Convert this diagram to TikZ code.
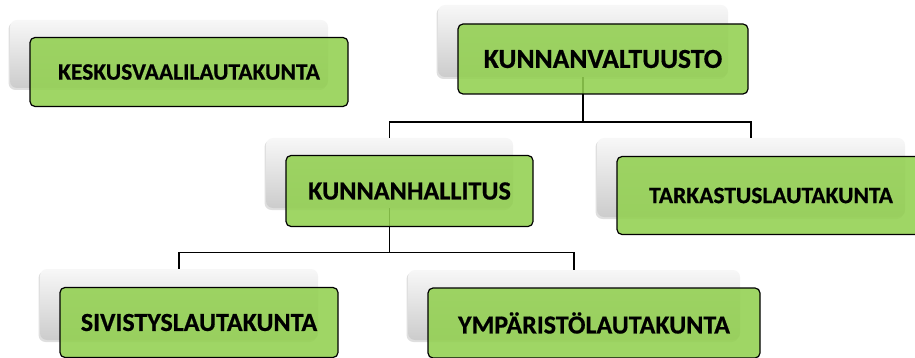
\documentclass[tikz,border=0pt]{standalone}
\usepackage{fontspec}
\setmainfont{Carlito}[BoldFeatures={FakeBold=0.6}]
\usetikzlibrary{shadows}
\definecolor{verde}{HTML}{92D050}

\begin{document}
\begin{tikzpicture}[x=1pt,y=-1pt,
	sfondo/.style={rounded corners=7pt, draw=none, top color=white!97!black, middle color=white!96!black, bottom color=white!80!black, drop shadow={shadow xshift=-1.5pt, shadow yshift=-2pt, opacity=0.25}, minimum height=70pt, inner sep=0pt},
	casella/.style={rounded corners=5pt, draw=black, line width=1.2pt, fill=verde, fill opacity=0.88, text opacity=1, minimum height=70pt, inner sep=0pt},
	linea/.style={line width=1.4pt}]
	\useasboundingbox (0,0) rectangle (915,358);
	% caselle di sfondo
	\node[sfondo, minimum width=318pt, minimum height=68pt] (ksv) at (169,54) {};
	\node[sfondo, minimum width=290pt, minimum height=72pt] (kv) at (583,41) {};
	\node[sfondo, minimum width=247pt] (kh) at (389.5,173) {};
	\node[sfondo, minimum width=308pt, minimum height=79pt] (tar) at (751,177.5) {};
	\node[sfondo, minimum width=278pt, minimum height=71pt] (siv) at (179,304.5) {};
	\node[sfondo, minimum width=332pt] (ymp) at (574,305) {};
	% collegamenti
	\draw[linea] (kv.south) -- ++(0,45) coordinate (kvm) -| (kh.north);
	\draw[linea] (kvm) -| (tar.north);
	\draw[linea] (kh.south) -- ++(0,44) coordinate (khm) -| (siv.north);
	\draw[linea] (khm) -| (ymp.north);
	% caselle verdi
	\node[casella, minimum width=318pt, minimum height=69pt, font=\bfseries\fontsize{23.5}{28}\selectfont] (ksvV) at ([shift={(20,18)}]ksv.center) {KESKUSVAALILAUTAKUNTA};
	\node[casella, minimum width=290pt, font=\bfseries\fontsize{27.5}{32}\selectfont] (kvV) at ([shift={(20,18)}]kv.center) {KUNNANVALTUUSTO};
	\node[casella, minimum width=247pt, minimum height=71pt, font=\bfseries\fontsize{26.2}{30}\selectfont] (khV) at ([shift={(20,18)}]kh.center) {KUNNANHALLITUS};
	\node[casella, minimum width=308pt, minimum height=78pt, font=\bfseries\fontsize{23.5}{28}\selectfont] (tarV) at ([shift={(20,18)}]tar.center) {TARKASTUSLAUTAKUNTA};
	\node[casella, minimum width=278pt, font=\bfseries\fontsize{26}{30}\selectfont] (sivV) at ([shift={(20,18)}]siv.center) {SIVISTYSLAUTAKUNTA};
	\node[casella, minimum width=332pt, font=\bfseries\fontsize{26}{30}\selectfont] (ympV) at ([shift={(20,18)}]ymp.center) {YMPÄRISTÖLAUTAKUNTA};
\end{tikzpicture}
\end{document}
